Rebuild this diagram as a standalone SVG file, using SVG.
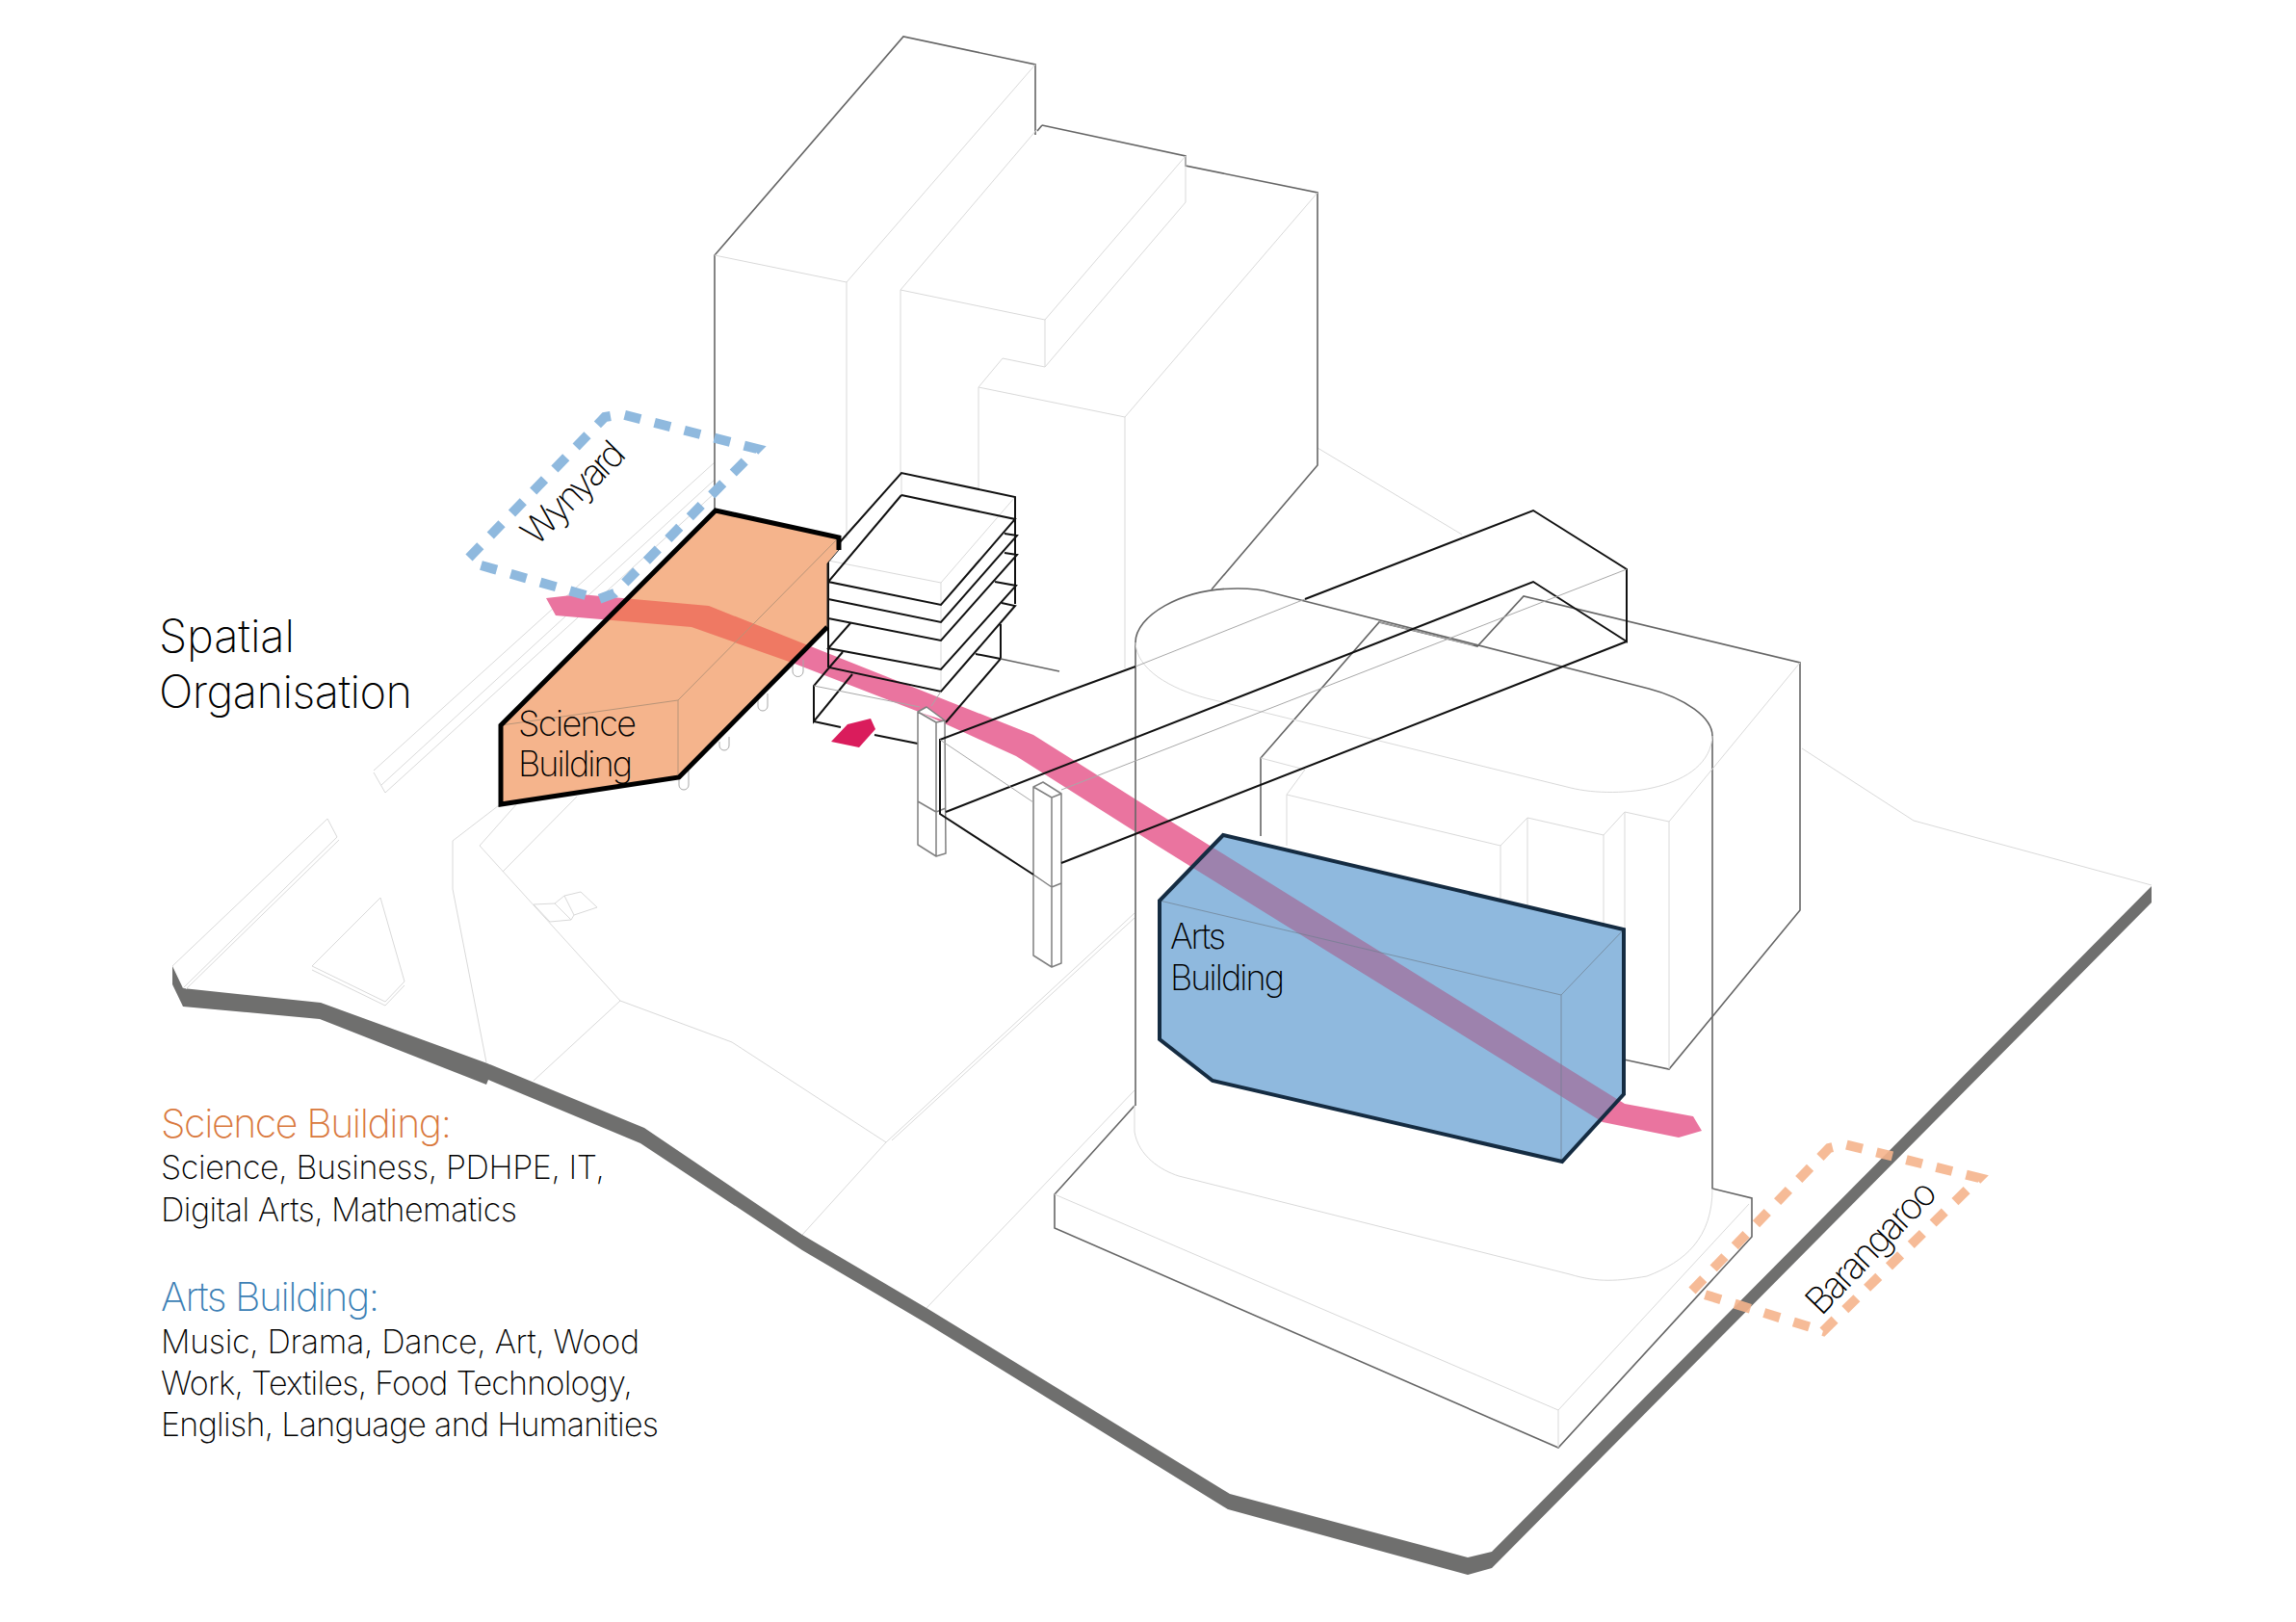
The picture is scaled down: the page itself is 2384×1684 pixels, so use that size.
<svg xmlns="http://www.w3.org/2000/svg" width="2384" height="1684" viewBox="0 0 2384 1684">
<style>
.lt{fill:none;stroke:#d9d9d9;stroke-width:1}
.md{fill:none;stroke:#a8a8a8;stroke-width:1}
.dk{fill:none;stroke:#666;stroke-width:1.6}
.bk{fill:none;stroke:#111;stroke-width:2}
.col{fill:#fff;stroke:#808080;stroke-width:1.5;stroke-linejoin:round}
.t{font-family:"Inter","Liberation Sans",sans-serif;font-weight:200;fill:#000}
.inner{fill:none;stroke:#6f7f8f;stroke-width:1;stroke-opacity:.7}
</style>
<defs>
<clipPath id="cs"><path d="M520,753 743,529 871,558 871,570 859,585 859,651 705,807 520,835Z"/></clipPath>
<clipPath id="ca"><path d="M1270,867 1686,965 1686,1136 1622,1206 1259,1122 1204,1079 1204,935Z"/></clipPath>
<path id="rib" d="M567,621 602,617 736,629 834,668 1073,763 1200,843 1687,1146 1758,1159 1767,1174 1743,1181 1664,1165 1200,877 1055,785 954,739 825,689 718,651 577,639Z"/>
</defs>
<rect width="2384" height="1684" fill="#fff"/>

<g id="site">
<path fill="#6f6f6e" d="M179,1003 190,1026 333,1041 506,1104 669,1171 833,1282 962,1358 1277,1551 1524,1617 1549,1611 2234,920 2234,937 1549,1628 1524,1635 1275,1567 962,1374 833,1298 665,1187 507,1121 505,1126 332,1058 190,1045 179,1022Z"/>
<path class="lt" d="M179,1003 340,850 350,869 190,1026M352,872 193,1027M388,800 742,480M400,823 742,512M396,815 742,498M388,802 400,823"/>
<path class="lt" d="M395,932 324,1003 400,1040 420,1019ZM324,1007 400,1044 420,1023"/>
<path class="lt" d="M522,833 470,873 470,923 505,1103M538,833 498,878 644,1039 760,1082 920,1186 833,1282M522,905 599,827M644,1039 554,1122"/>
<path class="lt" d="M920,1186 1178,948M926,1184 1178,953M962,1358 1178,1132"/>
<path class="lt" d="M554,939 576,938 586,930 603,926 620,942 596,950 593,955 571,957ZM576,938 593,955M586,930 596,950"/>
<path class="lt" d="M1871,777 1987,852 2234,919M1368,465 1518,555"/>
</g>

<g id="ribbon"><use href="#rib" fill="#ea749f"/></g>

<g id="tower">
<path class="dk" d="M742,529V265L938,38 1075,67V140M1082,130 1077,136M1082,130 1231,162V172L1368,200V483L1258,612"/>
<path class="lt" d="M742,265 879,293 1075,67M879,293V559M935,491V301L1077,134M935,301 1085,332 1231,162V210L1085,381V332M1085,381 1041,372 1016,402 1168,433 1368,200M1016,402V508M1168,433V694"/>
</g>

<g id="stack">
<path class="lt" d="M860,582 977,605 1054,516M977,605V718M936,491V514"/>
<path class="bk" d="M872,563 936,491 1054,516V627M936,514 1054,539 977,628 860,604 936,514M860,622 977,646 1056,556 1043,554M860,642 977,665 1056,576 1043,574M883,647 860,673 977,695 1055,608 1033,604M875,677 861,693 977,718 1054,629 1040,626M860,580V693M1039,648V684L982,750M1013,679 1039,684M861,693 845,712V749L885,700M845,749 873,755M908,763 953,772"/>
<path class="md" d="M845,712 955,734M967,733 977,718"/>
<path class="dk" d="M1039,684 1100,697" stroke-width="1"/>
</g>

<g id="drum">
<path class="dk" d="M1179,1148V667C1179,640 1225,611 1285,611C1300,611 1310,612 1319,615L1712,715C1750,725 1778,745 1778,764V1234L1819,1244V1284L1618,1503 1095,1275V1240L1178,1148"/>
<path class="dk" d="M1309,868V787L1432,646 1534,671 1582,619 1869,688V945L1733,1110 1686,1100"/>
<path class="md" d="M1432,646 1530,670"/>
<path class="lt" d="M1179,667C1180,695 1215,715 1253,725L1631,818C1680,830 1775,820 1778,764M1309,787 1355,799 1336,825 1558,878 1586,849 1665,867 1687,843 1733,853 1869,688M1733,853V1110M1336,825V878M1558,878V933M1586,849V943M1665,867V959M1687,843V964"/>
<path class="lt" d="M1178,1148V1175C1182,1200 1205,1215 1224,1221L1630,1323C1660,1332 1680,1330 1710,1325C1750,1310 1778,1285 1778,1234M1095,1240 1618,1464V1503M1618,1464 1816,1250"/>
</g>

<g id="columns">
<path class="col" d="M953,739 962,734 981,748 982,886 972,889 953,877ZM953,739 972,750 981,748M972,750V889M953,832 972,843 982,839"/>
<path class="col" d="M1073,817 1083,812 1102,824 1102,1000 1092,1004 1073,992ZM1073,817 1092,828 1102,824M1092,828V1004M1073,908 1092,921 1102,917"/>
</g>

<g id="block">
<path class="bk" d="M1179,692 1100,721 976,768V845L1073,908M982,843 1592,604 1689,666V591L1592,530 1355,622M1102,896 1689,666"/>
<path class="md" d="M1179,692 1355,622M976,768 1073,833M1102,820 1689,591"/>
</g>

<g id="stilts">
<path class="md" d="M705,806V815a5,5 0 0 0 10,0V800M747,770V774a5,5 0 0 0 10,0V765M787,725V733a5,5 0 0 0 10,0V720M823,690V697a5,5 0 0 0 11,0V685"/>
</g>

<g id="science-building">
<path fill="#f5b48c" d="M520,753 743,529 871,558 871,570 859,585 859,651 705,807 520,835Z"/>
<use href="#rib" fill="#ef7963" clip-path="url(#cs)"/>
<path fill="none" stroke="#b89478" stroke-width="1" d="M520,753 704,727V806M704,727 871,558"/>
<path fill="none" stroke="#000" stroke-width="5" stroke-linejoin="miter" d="M859,651 705,807 520,835V753L743,530 871,558V571"/>
<path fill="none" stroke="#222" stroke-width="1" d="M871,571 859,585V651"/>
<text class="t" x="538" y="764" font-size="36" textLength="123">Science</text>
<text class="t" x="538" y="806" font-size="36" textLength="119">Building</text>
</g>

<g id="arts-building">
<path fill="#8fb9de" d="M1270,867 1686,965 1686,1136 1622,1206 1259,1122 1204,1079 1204,935Z"/>
<use href="#rib" fill="#9d82ad" clip-path="url(#ca)"/>
<path class="inner" d="M1204,935 1621,1033V1205M1621,1033 1686,965"/>
<path fill="none" stroke="#152c42" stroke-width="4" stroke-linejoin="miter" d="M1270,867 1686,965 1686,1136 1622,1206 1259,1122 1204,1079 1204,935Z"/>
<text class="t" x="1215" y="985" font-size="36" textLength="58">Arts</text>
<text class="t" x="1215" y="1028" font-size="36" textLength="119">Building</text>
</g>

<g id="arrow"><path fill="#da1c5c" d="M863,770 880,752 904,746 909,757 892,776Z"/></g>

<g id="wynyard">
<path fill="none" stroke="#8fb9de" stroke-width="10" stroke-dasharray="17 15" d="M487,579 628,433 645,430 786,466 638,616 622,622 489,584"/>
<text class="t" x="557" y="568" font-size="38" textLength="134" transform="rotate(-45 557 568)">Wynyard</text>
</g>

<g id="barangaroo">
<path fill="none" stroke="#f5b48c" stroke-opacity=".9" stroke-width="10" stroke-dasharray="17 15" d="M1757,1340 1899,1192 1915,1188 2055,1223 1893,1382Z"/>
<text class="t" x="1891" y="1367" font-size="38" textLength="176" transform="rotate(-46 1891 1367)">Barangaroo</text>
</g>

<g id="captions">
<text class="t" x="165" y="677" font-size="47" textLength="141">Spatial</text>
<text class="t" x="165" y="735" font-size="47" textLength="263">Organisation</text>
<text class="t" x="167" y="1181" font-size="41" style="fill:#d9783c" textLength="302">Science Building:</text>
<text class="t" x="167" y="1224" font-size="34" textLength="461">Science, Business, PDHPE, IT,</text>
<text class="t" x="167" y="1268" font-size="34" textLength="370">Digital Arts, Mathematics</text>
<text class="t" x="167" y="1361" font-size="41" style="fill:#3c7fb5" textLength="227">Arts Building:</text>
<text class="t" x="167" y="1405" font-size="34" textLength="497">Music, Drama, Dance, Art, Wood</text>
<text class="t" x="167" y="1448" font-size="34" textLength="490">Work, Textiles, Food Technology,</text>
<text class="t" x="167" y="1491" font-size="34" textLength="517">English, Language and Humanities</text>
</g>
</svg>
